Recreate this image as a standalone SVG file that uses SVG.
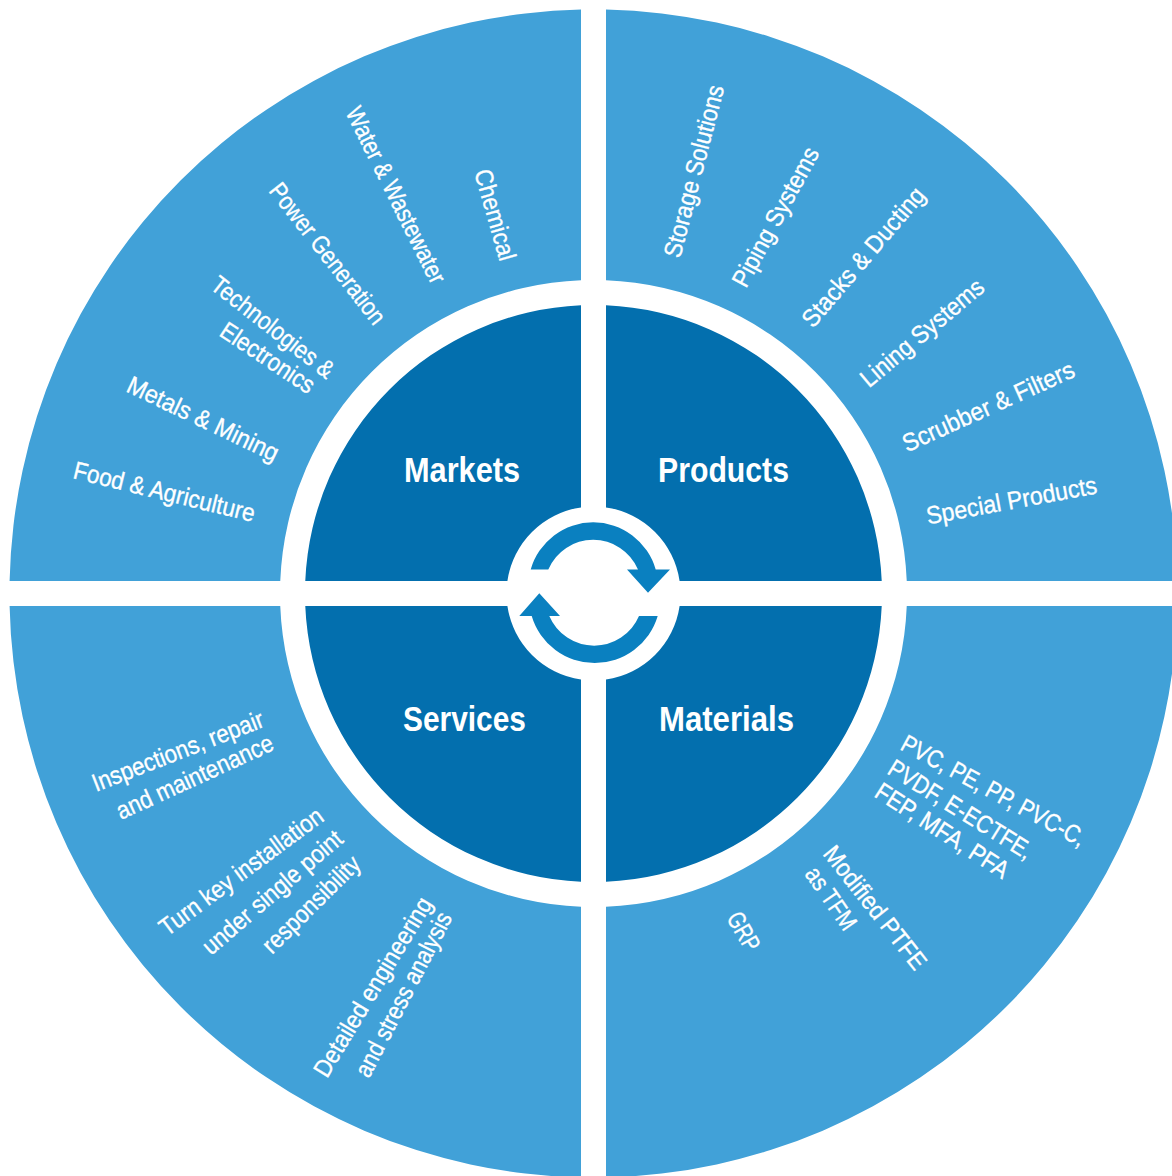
<svg xmlns="http://www.w3.org/2000/svg" width="1172" height="1176" viewBox="0 0 1172 1176">
<style>
.o{fill:#41a1d8}
.d{fill:#036fae}
.a{fill:#0a80c0}
text{font-family:"Liberation Sans",Arial,sans-serif;fill:#fff}
.t{font-size:25px;stroke:#fff;stroke-width:.35}
.h{font-size:35px;font-weight:bold}
</style>
<rect width="1172" height="1176" fill="#fff"/>
<g id="markets">
<path class="o" d="M9.6 581A584 584 0 0 1 581 9.6V280.25A313.5 313.5 0 0 0 280.25 581Z"/>
<path class="d" d="M305.27 581A288.5 288.5 0 0 1 581 305.27V507.4A87 87 0 0 0 507.4 581Z"/>
<text class="h" x="404" y="481.5" textLength="116" lengthAdjust="spacingAndGlyphs">Markets</text>
<text class="t" transform="translate(474 172) rotate(74)" textLength="94" lengthAdjust="spacingAndGlyphs">Chemical</text>
<text class="t" transform="translate(345 112) rotate(63.5)" textLength="194" lengthAdjust="spacingAndGlyphs">Water &amp; Wastewater</text>
<text class="t" transform="translate(268 191) rotate(52)" textLength="172" lengthAdjust="spacingAndGlyphs">Power Generation</text>
<text class="t" transform="translate(209 288) rotate(38)" textLength="149" lengthAdjust="spacingAndGlyphs">Technologies &amp;</text>
<text class="t" transform="translate(218 335) rotate(33.5)" textLength="108" lengthAdjust="spacingAndGlyphs">Electronics</text>
<text class="t" transform="translate(125 391) rotate(25.5)" textLength="165" lengthAdjust="spacingAndGlyphs">Metals &amp; Mining</text>
<text class="t" transform="translate(72 478) rotate(13.7)" textLength="186" lengthAdjust="spacingAndGlyphs">Food &amp; Agriculture</text>
</g>
<g id="products">
<path class="o" d="M606 9.6A584 584 0 0 1 1177.4 581H906.75A313.5 313.5 0 0 0 606 280.25Z"/>
<path class="d" d="M606 305.27A288.5 288.5 0 0 1 881.73 581H679.6A87 87 0 0 0 606 507.4Z"/>
<text class="h" x="658" y="481.5" textLength="131" lengthAdjust="spacingAndGlyphs">Products</text>
<text class="t" transform="translate(680 259) rotate(-75.5)" textLength="177" lengthAdjust="spacingAndGlyphs">Storage Solutions</text>
<text class="t" transform="translate(746 289) rotate(-61.5)" textLength="155" lengthAdjust="spacingAndGlyphs">Piping Systems</text>
<text class="t" transform="translate(813 329) rotate(-49.5)" textLength="175" lengthAdjust="spacingAndGlyphs">Stacks &amp; Ducting</text>
<text class="t" transform="translate(869 388.500) rotate(-40.1)" textLength="153" lengthAdjust="spacingAndGlyphs">Lining Systems</text>
<text class="t" transform="translate(907 452.500) rotate(-24.3)" textLength="186" lengthAdjust="spacingAndGlyphs">Scrubber &amp; Filters</text>
<text class="t" transform="translate(928 524.500) rotate(-10.4)" textLength="173" lengthAdjust="spacingAndGlyphs">Special Products</text>
</g>
<g id="materials">
<path class="o" d="M1177.4 606A584 584 0 0 1 606 1177.4V906.75A313.5 313.5 0 0 0 906.75 606Z"/>
<path class="d" d="M881.73 606A288.5 288.5 0 0 1 606 881.73V679.6A87 87 0 0 0 679.6 606Z"/>
<text class="h" x="659" y="730.5" textLength="135" lengthAdjust="spacingAndGlyphs">Materials</text>
<text class="t" transform="translate(899 749) rotate(28.5)" textLength="206" lengthAdjust="spacingAndGlyphs">PVC, PE, PP, PVC-C,</text>
<text class="t" transform="translate(886 773) rotate(31.9)" textLength="165" lengthAdjust="spacingAndGlyphs">PVDF, E-ECTFE,</text>
<text class="t" transform="translate(873 796) rotate(32.9)" textLength="154" lengthAdjust="spacingAndGlyphs">FEP, MFA, PFA</text>
<text class="t" transform="translate(822 854) rotate(51.8)" textLength="150" lengthAdjust="spacingAndGlyphs">Modified PTFE</text>
<text class="t" transform="translate(804 874) rotate(55.4)" textLength="71" lengthAdjust="spacingAndGlyphs">as TFM</text>
<text class="t" transform="translate(726 918) rotate(60)" textLength="41" lengthAdjust="spacingAndGlyphs">GRP</text>
</g>
<g id="services">
<path class="o" d="M581 1177.4A584 584 0 0 1 9.6 606H280.25A313.5 313.5 0 0 0 581 906.75Z"/>
<path class="d" d="M581 881.73A288.5 288.5 0 0 1 305.27 606H507.4A87 87 0 0 0 581 679.6Z"/>
<text class="h" x="403" y="730.5" textLength="123" lengthAdjust="spacingAndGlyphs">Services</text>
<text class="t" transform="translate(96 792) rotate(-21.2)" textLength="182" lengthAdjust="spacingAndGlyphs">Inspections, repair</text>
<text class="t" transform="translate(121 820) rotate(-24.6)" textLength="170" lengthAdjust="spacingAndGlyphs">and maintenance</text>
<text class="t" transform="translate(167 937) rotate(-36.5)" textLength="197" lengthAdjust="spacingAndGlyphs">Turn key installation</text>
<text class="t" transform="translate(211 956) rotate(-40.6)" textLength="176" lengthAdjust="spacingAndGlyphs">under single point</text>
<text class="t" transform="translate(272 955) rotate(-44.7)" textLength="127" lengthAdjust="spacingAndGlyphs">responsibility</text>
<text class="t" transform="translate(327 1079) rotate(-58.8)" textLength="205" lengthAdjust="spacingAndGlyphs">Detailed engineering</text>
<text class="t" transform="translate(369 1079) rotate(-62.6)" textLength="182" lengthAdjust="spacingAndGlyphs">and stress analysis</text>
</g>
<g id="connectors">
<path class="a" d="M530.7 569.5A65 65 0 0 1 655.7 569.5H670L648 592.7L627 569.5H638A48.75 48.75 0 0 0 548.3 569.5Z"/>
<path class="a" d="M657.7 616A65.7 65.7 0 0 1 531.7 616H519.3L539.3 593.3L560 616H549.3A48.75 48.75 0 0 0 639 616Z"/>
</g>
</svg>
